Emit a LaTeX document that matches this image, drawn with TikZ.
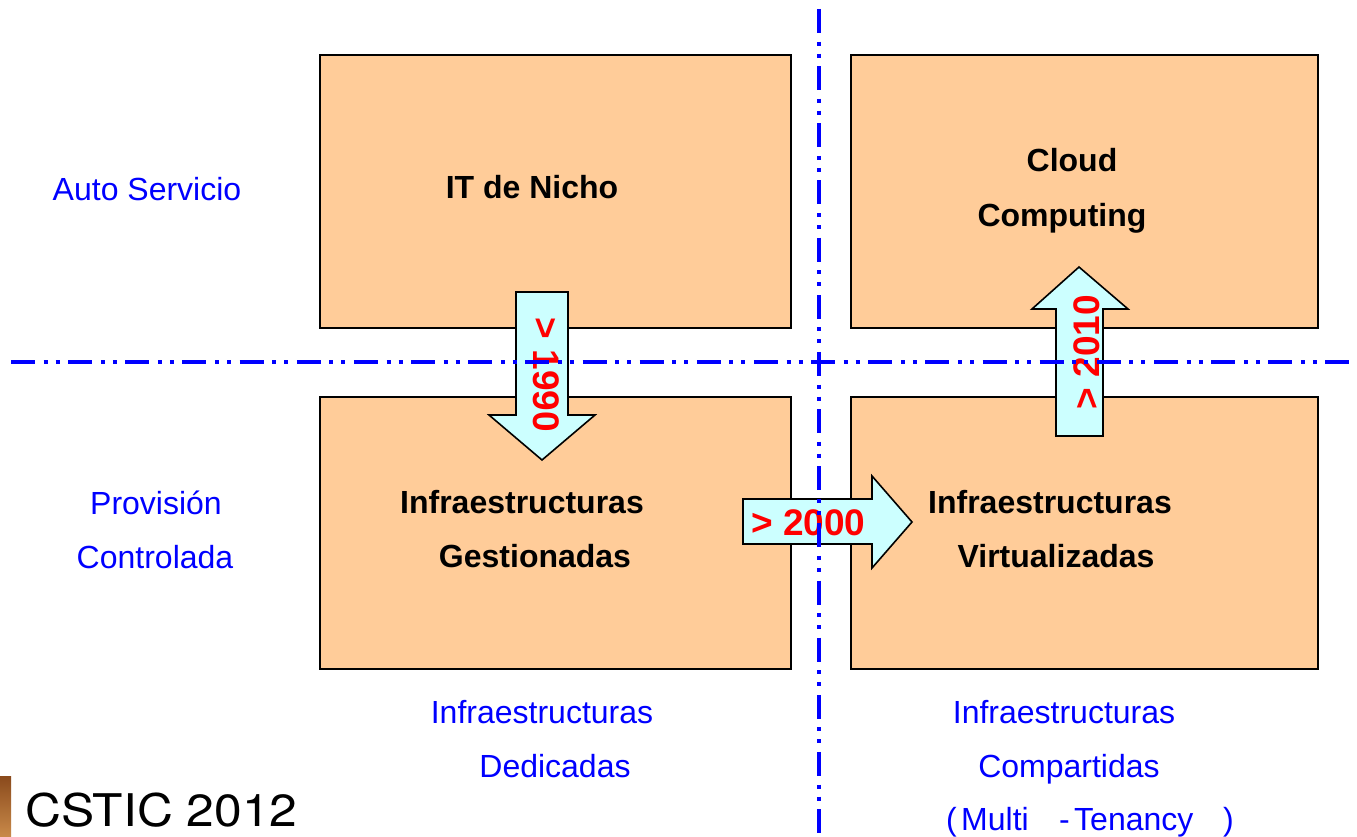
\documentclass[tikz,border=0pt]{standalone}
\usepackage{fontspec}
\setmainfont{Liberation Sans}
\newfontfamily\logofont{TeX Gyre Heros}
\definecolor{boxfill}{HTML}{FFCC99}
\definecolor{arrowfill}{HTML}{CCFFFF}
\definecolor{axis}{HTML}{0000FF}
\definecolor{stripA}{HTML}{8A4A1C}
\definecolor{stripB}{HTML}{C98A4A}
\tikzset{
  quad/.style={draw=black,line width=1.6pt,fill=boxfill},
  jump/.style={draw=black,line width=1.6pt,fill=arrowfill,line join=miter},
  title/.style={font=\fontsize{32}{32}\selectfont\bfseries,text=black,inner sep=0pt,anchor=base},
  side/.style={font=\fontsize{32}{32}\selectfont,text=axis,inner sep=0pt,anchor=base},
  era/.style={font=\fontsize{37}{37}\selectfont\bfseries,text=red,inner sep=0pt},
  axisline/.style={draw=axis,line width=3.1pt,dash pattern=on 24pt off 8.6pt on 4pt off 8pt on 4pt off 8.55pt}
}
\begin{document}
\begin{tikzpicture}[x=1pt,y=-1pt]
\useasboundingbox (0,0) rectangle (1357,837);
\path[fill=white] (0,0) rectangle (1357,837);
% boxes
\draw[quad] (320,55) rectangle (791,328);
\draw[quad] (851,55) rectangle (1318,328);
\draw[quad] (320,397) rectangle (791,669);
\draw[quad] (851,397) rectangle (1318,669);
% arrows
\draw[jump] (516,292) -- (568,292) -- (568,415) -- (595,415) -- (542,460) -- (489,415) -- (516,415) -- cycle;
\draw[jump] (743,499) -- (872,499) -- (872,476) -- (912,522) -- (872,568) -- (872,544) -- (743,544) -- cycle;
\draw[jump] (1056,436) -- (1056,309) -- (1032,309) -- (1079,267) -- (1128,309) -- (1103,309) -- (1103,436) -- cycle;
% box titles
\node[title] (nicho) at (532,198.5) {IT de Nicho};
\node[title] (cloud) at (1072,171.5) {Cloud};
\node[title] (computing) at (1062,226) {Computing};
\node[title] (ig1) at (522,513) {Infraestructuras};
\node[title] (ig2) at (535,567) {Gestionadas};
\node[title] (iv1) at (1050,513) {Infraestructuras};
\node[title] (iv2) at (1056,567) {Virtualizadas};
% era labels
\node[era,rotate=-90] (e1990) at (546,375) {> 1990};
\node[era] (e2000) at (808.5,523) {> 2000};
\node[era,rotate=90] (e2010) at (1087,352) {> 2010};
% side labels
\node[side] (auto) at (147,201) {Auto Servicio};
\node[side] (prov) at (156,514) {Provisión};
\node[side] (ctrl) at (155,568) {Controlada};
\node[side] (ded1) at (542,723) {Infraestructuras};
\node[side] (ded2) at (555,777) {Dedicadas};
\node[side] (com1) at (1064,723) {Infraestructuras};
\node[side] (com2) at (1069,777) {Compartidas};
\node[side,anchor=base west] (mt0) at (946,830) {(};
\node[side,anchor=base west] (mt1) at (961,830) {Multi};
\node[side,anchor=base west] (mt2) at (1059,830) {-};
\node[side,anchor=base west] (mt3) at (1074,830) {Tenancy};
\node[side,anchor=base west] (mt4) at (1223,830) {)};
% axes
\coordinate (ht) at (11,362);
\coordinate (hb) at (1352,362);
\coordinate (vt) at (819,9);
\coordinate (vb) at (819,834);
\draw[axisline] (ht) -- (hb);
\draw[axisline] (vt) -- (vb);
% logo
\shade[left color=stripA,right color=stripB,shading angle=0] (0,776) rectangle (11,837);
\node[font=\logofont\fontsize{45}{45}\selectfont,text=black,inner sep=0pt,anchor=base west,xscale=1.105] (logo) at (25,826.5) {CSTIC 2012};
\end{tikzpicture}
\end{document}
